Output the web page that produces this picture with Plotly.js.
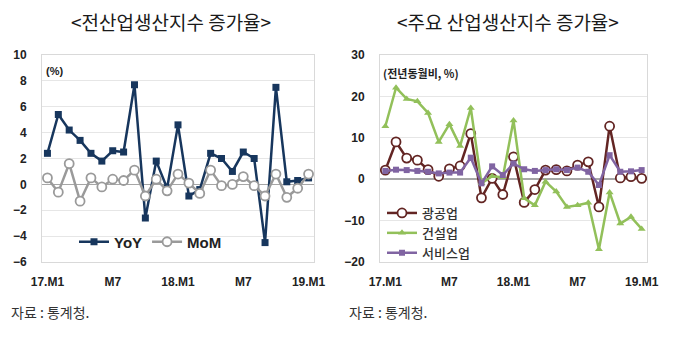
<!DOCTYPE html>
<html>
<head>
<meta charset="utf-8">
<script src="https://cdn.plot.ly/plotly-3.0.1.min.js"></script>
<style>html,body{margin:0;padding:0;background:#fff;}#chart{width:680px;height:353px;}</style>
</head>
<body>
<div id="chart"></div>
<script>
// 2017.M1 .. 2019.M1 (25 months)
const months = ["17.M1","17.M2","17.M3","17.M4","17.M5","17.M6","17.M7","17.M8","17.M9","17.M10","17.M11","17.M12",
  "18.M1","18.M2","18.M3","18.M4","18.M5","18.M6","18.M7","18.M8","18.M9","18.M10","18.M11","18.M12","19.M1"];
const tickIdx = [0, 6, 12, 18, 24];
const tickLabels = ["17.M1", "M7", "18.M1", "M7", "19.M1"];

// Left panel: all-industry production index growth
const yoy = [2.4, 5.4, 4.2, 3.4, 2.4, 1.8, 2.6, 2.5, 7.7, -2.6, 1.8, -0.3,
  4.6, -0.9, -0.4, 2.4, 2.0, 1.0, 2.5, 2.0, -4.5, 7.5, 0.2, 0.3, 0.5];
const mom = [0.5, -0.6, 1.6, -1.3, 0.5, -0.2, 0.4, 0.3, 1.1, -0.9, 0.4, -0.5,
  0.8, 0.1, -0.7, 1.1, -0.1, 0.0, 0.6, -0.1, -0.9, 0.8, -1.0, -0.3, 0.8];

// Right panel: major industries (YoY)
const mining = [2.2, 9.0, 5.1, 4.6, 2.3, 0.7, 2.5, 3.2, 11.0, -4.5, 0.2, -3.7,
  5.4, -5.6, -2.5, 2.2, 2.3, 2.0, 3.4, 4.2, -6.7, 12.8, 0.3, 0.6, 0.2];
const construction = [12.8, 22.1, 19.4, 18.8, 16.0, 9.0, 13.3, 8.0, 17.2, -1.0, 0.7, 0.5,
  14.2, -4.6, -6.3, -0.6, -3.0, -6.7, -6.3, -5.7, -16.9, -3.2, -10.7, -9.1, -12.0];
const services = [2.0, 2.3, 2.2, 2.0, 1.8, 1.4, 1.6, 1.6, 5.2, -1.0, 3.1, 1.0,
  3.8, 2.4, 2.0, 2.2, 2.4, 2.2, 2.8, 1.8, -1.4, 5.8, 1.8, 1.9, 2.2];

const leftTitle = "&lt;전산업생산지수 증가율&gt;";
const rightTitle = "&lt;주요 산업생산지수 증가율&gt;";
const leftUnit = "(%)";
const rightUnit = "(전년동월비, %)";
const source = "자료 : 통계청.";

const idx = months.map((m, i) => i);
const W = 680, H = 353;
const px = v => v / W, py = v => 1 - v / H;

const tickFont = {family: "Liberation Sans, Arial, sans-serif", size: 12, color: "#222"};
const korFont = "Noto Sans CJK KR, sans-serif";

function xa(dom, anchor) {
  return {domain: dom, anchor: anchor, range: [-0.5, 24.5], tickmode: "array",
    tickvals: tickIdx, ticktext: tickLabels.map(t => "<b>" + t + "</b>"),
    showgrid: false, zeroline: false, showline: true, linecolor: "#d9d9d9", linewidth: 1,
    mirror: true, ticks: "", tickfont: tickFont, ticklabelstandoff: 9, fixedrange: true};
}
function ya(dom, anchor, range, dtick) {
  return {domain: dom, anchor: anchor, range: range, dtick: dtick, tick0: 0,
    showgrid: true, gridcolor: "#e6e6e6", gridwidth: 1,
    zeroline: true, zerolinecolor: "#a6a6a6", zerolinewidth: 1.5,
    showline: true, linecolor: "#d9d9d9", linewidth: 1, mirror: true,
    ticks: "", tickfont: tickFont, ticklabelstandoff: 12, fixedrange: true,
    tickprefix: "<b>", ticksuffix: "</b>"};
}

const yDom = [py(262), py(55)];

const traces = [
  {x: idx, y: yoy, name: "YoY", type: "scatter", mode: "lines+markers", xaxis: "x", yaxis: "y",
    line: {color: "#17365d", width: 2.5}, marker: {symbol: "square", size: 7, color: "#17365d"}, legend: "legend"},
  {x: idx, y: mom, name: "MoM", type: "scatter", mode: "lines+markers", xaxis: "x", yaxis: "y",
    line: {color: "#9a9a9a", width: 2.5}, marker: {symbol: "circle", size: 9, color: "#ffffff", line: {color: "#9a9a9a", width: 1.8}}, legend: "legend"},
  {x: idx, y: mining, name: "광공업", type: "scatter", mode: "lines+markers", xaxis: "x2", yaxis: "y2",
    line: {color: "#632523", width: 2.5}, marker: {symbol: "circle", size: 9, color: "#ffffff", line: {color: "#632523", width: 1.8}}, legend: "legend2"},
  {x: idx, y: construction, name: "건설업", type: "scatter", mode: "lines+markers", xaxis: "x2", yaxis: "y2",
    line: {color: "#92c05a", width: 2.5}, marker: {symbol: "triangle-up", size: 7, color: "#92c05a"}, legend: "legend2"},
  {x: idx, y: services, name: "서비스업", type: "scatter", mode: "lines+markers", xaxis: "x2", yaxis: "y2",
    line: {color: "#8064a2", width: 2.5}, marker: {symbol: "square", size: 6, color: "#8064a2"}, legend: "legend2"}
];

const layout = {
  width: W, height: H, margin: {l: 0, r: 0, t: 0, b: 0},
  paper_bgcolor: "#fff", plot_bgcolor: "#fff", showlegend: true,
  xaxis: xa([px(42), px(314)], "y"),
  yaxis: ya(yDom, "x", [-6, 10], 2),
  xaxis2: xa([px(380), px(647)], "y2"),
  yaxis2: ya(yDom, "x2", [-20, 30], 10),
  legend: {x: px(74), y: py(242), xanchor: "left", yanchor: "middle", orientation: "h",
    bgcolor: "rgba(0,0,0,0)", font: {family: "Liberation Sans, Arial, sans-serif", size: 15, color: "#222", weight: "bold"},
    itemwidth: 30, tracegroupgap: 0},
  legend2: {x: px(382), y: py(198), xanchor: "left", yanchor: "top", orientation: "v",
    bgcolor: "rgba(0,0,0,0)", font: {family: korFont, size: 13, color: "#333", weight: 500},
    itemwidth: 30, tracegroupgap: 0},
  annotations: [
    {text: leftTitle, x: px(171), y: py(22), xref: "paper", yref: "paper", showarrow: false,
      xanchor: "center", yanchor: "middle", font: {family: korFont, size: 19, color: "#1a1a1a"}},
    {text: rightTitle, x: px(508), y: py(22), xref: "paper", yref: "paper", showarrow: false,
      xanchor: "center", yanchor: "middle", font: {family: korFont, size: 19, color: "#1a1a1a"}},
    {text: leftUnit, x: px(44), y: py(63), xref: "paper", yref: "paper", xanchor: "left", showarrow: false,
      font: {family: "Liberation Sans, Arial, sans-serif", size: 11, color: "#222", weight: "bold"}},
    {text: rightUnit, x: px(381), y: py(63), xref: "paper", yref: "paper", xanchor: "left", showarrow: false,
      font: {family: korFont, size: 11, color: "#222", weight: "bold"}},
    {text: source, x: px(9), y: py(312), xref: "paper", yref: "paper", xanchor: "left", yanchor: "middle", showarrow: false,
      font: {family: korFont, size: 14, color: "#333"}},
    {text: source, x: px(347), y: py(312), xref: "paper", yref: "paper", xanchor: "left", yanchor: "middle", showarrow: false,
      font: {family: korFont, size: 14, color: "#333"}}
  ]
};

Plotly.newPlot("chart", traces, layout, {displayModeBar: false, staticPlot: true});
</script>
</body>
</html>
